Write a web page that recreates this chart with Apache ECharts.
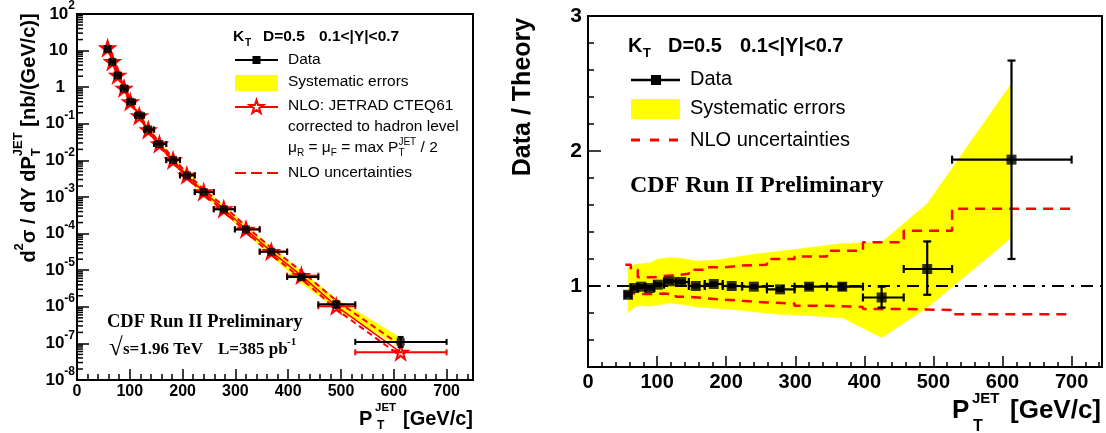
<!DOCTYPE html>
<html>
<head>
<meta charset="utf-8">
<script src="https://cdn.jsdelivr.net/npm/echarts@6.0.0/dist/echarts.min.js"></script>
<style>html,body{margin:0;padding:0;background:#fff;}#chart{width:1106px;height:433px;}</style>
</head>
<body>
<div id="chart"></div>
<script>
// ---------------- values ----------------
const ptBinCenters = [58, 67, 77, 89, 101, 118, 135, 156, 182, 208, 240, 278, 320, 368, 425, 491, 613];
const ptBinEdges   = [54, 62, 72, 83, 96, 110, 127, 146, 169, 195, 223, 259, 299, 346, 398, 457, 527, 700];

// left panel : d2sigma / dY dPT  [nb/(GeV/c)]
const dataXsec        = [11, 4.9, 2.1, 0.92, 0.40, 0.17, 0.070, 0.028, 0.0103, 0.0039, 0.00136, 4.6e-4, 1.3e-4, 3.2e-5, 6.5e-6, 1.17e-6, 1.1e-7];
const dataXsecErrUp   = [0, 0, 0, 0, 0, 0, 0, 0, 0, 0, 0, 0, 0, 0, 0.5e-6, 0.23e-6, 4.0e-8];
const dataXsecErrDown = [0, 0, 0, 0, 0, 0, 0, 0, 0, 0, 0, 0, 0, 0, 0.5e-6, 0.22e-6, 3.0e-8];
const nloXsec         = [11.8, 4.97, 2.11, 0.934, 0.396, 0.164, 0.068, 0.028, 0.0101, 0.0039, 0.00137, 4.72e-4, 1.31e-4, 3.22e-5, 7.1e-6, 1.04e-6, 5.7e-8];
const sysBandXsecHigh = [13.3, 5.77, 2.46, 1.09, 0.475, 0.198, 0.082, 0.0332, 0.0121, 0.00472, 0.00169, 5.93e-4, 1.68e-4, 4.23e-5, 9.4e-6, 1.67e-6, 1.42e-7];
const sysBandXsecLow  = [9.4, 4.2, 1.80, 0.794, 0.341, 0.1435, 0.0588, 0.0237, 0.00848, 0.00323, 0.00111, 3.73e-4, 1.02e-4, 2.46e-5, 4.39e-6, 8.74e-7, 7.72e-8];
const nloUncXsecHigh  = [13.6, 5.57, 2.25, 0.995, 0.426, 0.177, 0.0741, 0.0314, 0.0116, 0.00449, 0.00159, 5.66e-4, 1.59e-4, 4.06e-5, 9.4e-6, 1.47e-6, 8.9e-8];
const nloUncXsecLow   = [11.2, 4.67, 1.98, 0.878, 0.374, 0.153, 0.0626, 0.0255, 0.00914, 0.00347, 0.0012, 4.11e-4, 1.12e-4, 2.72e-5, 5.89e-6, 8.55e-7, 4.5e-8];

// right panel : Data / Theory
const ratioData     = [0.935, 0.985, 0.995, 0.985, 1.01, 1.035, 1.03, 1.0, 1.015, 1.0, 0.995, 0.975, 0.995, 0.995, 0.915, 1.126, 1.936];
const ratioErrUp    = [0.01, 0.01, 0.01, 0.01, 0.01, 0.01, 0.01, 0.01, 0.01, 0.01, 0.01, 0.012, 0.015, 0.02, 0.08, 0.204, 0.734];
const ratioErrDown  = [0.01, 0.01, 0.01, 0.01, 0.01, 0.01, 0.01, 0.01, 0.01, 0.01, 0.01, 0.012, 0.015, 0.02, 0.075, 0.191, 0.736];
const ratioSysHigh  = [1.13, 1.16, 1.165, 1.17, 1.20, 1.21, 1.205, 1.185, 1.19, 1.21, 1.235, 1.257, 1.285, 1.315, 1.324, 1.61, 2.50];
const ratioSysLow   = [0.80, 0.845, 0.855, 0.85, 0.86, 0.875, 0.865, 0.846, 0.835, 0.828, 0.81, 0.79, 0.78, 0.765, 0.618, 0.84, 1.36];
const ratioNloHigh  = [1.158, 1.12, 1.065, 1.065, 1.075, 1.08, 1.09, 1.12, 1.138, 1.151, 1.158, 1.20, 1.218, 1.262, 1.324, 1.41, 1.572];
const ratioNloLow   = [0.95, 0.94, 0.94, 0.94, 0.945, 0.935, 0.92, 0.91, 0.90, 0.89, 0.878, 0.87, 0.854, 0.845, 0.83, 0.822, 0.79];

// tick labels
const xTickValues     = [0, 100, 200, 300, 400, 500, 600, 700];
const logTickValues   = [1e-8, 1e-7, 1e-6, 1e-5, 1e-4, 1e-3, 1e-2, 1e-1, 1, 10, 100];
const ratioTickValues = [1, 2, 3];

// ---------------- drawing ----------------
const SANS = '"Liberation Sans", Arial, Helvetica, sans-serif';
const SERIF = '"Liberation Serif", "Times New Roman", serif';
const RED = '#ff0000', YEL = '#ffff00';
const STAR_PTS = [[50,4],[60.8,37.2],[95.6,37.2],[67.4,57.7],[78.2,90.8],[50,70.3],[21.8,90.8],[32.6,57.7],[4.4,37.2],[39.2,37.2]];
const STAR = 'path://M' + STAR_PTS.map(p => p[0] + ',' + p[1]).join('L') + 'Z';

const chart = echarts.init(document.getElementById('chart'), null, {renderer: 'canvas', width: 1106, height: 433});

const axisLineStyle = {color: '#000', width: 2};
const tickLineStyle = {color: '#000', width: 1.5};

function bandRender(xs, hi, lo, color) {
  return function (params, api) {
    const pts = [];
    for (let i = 0; i < xs.length; i++) pts.push(api.coord([xs[i], hi[i]]));
    for (let i = xs.length - 1; i >= 0; i--) pts.push(api.coord([xs[i], lo[i]]));
    return {type: 'polygon', shape: {points: pts}, style: {fill: color, stroke: color, lineWidth: 0.5}};
  };
}

function errRender(color, lw, cap) {
  return function (params, api) {
    const x = api.value(0), y = api.value(1), xl = api.value(2), xh = api.value(3), yl = api.value(4), yh = api.value(5);
    const c = api.coord([x, y]);
    const a = api.coord([xl, y]), b = api.coord([xh, y]);
    const st = {stroke: color, lineWidth: lw, fill: null};
    const ch = [
      {type: 'line', shape: {x1: a[0], y1: c[1], x2: b[0], y2: c[1]}, style: st},
      {type: 'line', shape: {x1: a[0], y1: c[1] - cap, x2: a[0], y2: c[1] + cap}, style: st},
      {type: 'line', shape: {x1: b[0], y1: c[1] - cap, x2: b[0], y2: c[1] + cap}, style: st}
    ];
    const lo = api.coord([x, yl]), hi = api.coord([x, yh]);
    if (Math.abs(lo[1] - hi[1]) > 1) {
      ch.push({type: 'line', shape: {x1: c[0], y1: lo[1], x2: c[0], y2: hi[1]}, style: st});
      ch.push({type: 'line', shape: {x1: c[0] - cap, y1: lo[1], x2: c[0] + cap, y2: lo[1]}, style: st});
      ch.push({type: 'line', shape: {x1: c[0] - cap, y1: hi[1], x2: c[0] + cap, y2: hi[1]}, style: st});
    }
    return {type: 'group', children: ch};
  };
}

const logMinorTicks = [];
for (let e = -8; e < 2; e++) for (let m = 2; m <= 9; m++) logMinorTicks.push([0, m * Math.pow(10, e)]);

const mctx = document.createElement('canvas').getContext('2d');
function layoutRuns(runs) {
  let x = 0; const ch = [];
  runs.forEach(r => {
    const fam = r.fam || SANS, w = r.w || 'bold';
    mctx.font = w + ' ' + r.s + 'px ' + fam;
    const wd = mctx.measureText(r.t).width;
    ch.push({type: 'text', x: x + (r.dx || 0), y: r.dy || 0,
      style: {text: r.t, fontSize: r.s, fontWeight: w, fontFamily: fam, fill: '#000', align: 'left', verticalAlign: 'middle'}});
    if (!r.stack) x += wd;
  });
  return {children: ch, width: x};
}
function txt(x, y, text, size, o) {
  o = o || {};
  return {type: 'text', x: x, y: y, z: 100, silent: true, rotation: o.rot || 0,
    style: {text: text, fontSize: size, fontFamily: o.fam || SANS, fontWeight: o.w || 'normal', fill: '#000',
      align: o.align || 'left', verticalAlign: o.va || 'middle'}};
}
function starPolygon(cx, cy, size) {
  return STAR_PTS.map(p => [cx - size / 2 + p[0] * size / 100, cy - size / 2 + p[1] * size / 100]);
}

const yTitle = layoutRuns([
  {t: 'd', s: 20}, {t: '2', s: 13, dy: -10}, {t: 'σ / dY dP', s: 20},
  {t: 'T', s: 13, dy: 7, stack: true}, {t: 'JET', s: 13, dy: -11}, {t: ' [nb/(GeV/c)]', s: 20}
]);
const muLine = layoutRuns([
  {t: 'μ', s: 15.5, w: 'normal'}, {t: 'R', s: 10, w: 'normal', dy: 5}, {t: ' = μ', s: 15.5, w: 'normal'},
  {t: 'F', s: 10, w: 'normal', dy: 5}, {t: ' = max P', s: 15.5, w: 'normal'},
  {t: 'T', s: 10, w: 'normal', dy: 5, stack: true}, {t: 'JET', s: 10, w: 'normal', dy: -6}, {t: ' / 2', s: 15.5, w: 'normal'}
]);

const graphics = [
  {type: 'group', x: 29, y: 138 + yTitle.width / 2, rotation: Math.PI / 2, z: 100, children: yTitle.children},
  txt(359, 419, 'P', 20, {w: 'bold'}), txt(375, 408, 'JET', 11.5, {w: 'bold'}), txt(377, 426, 'T', 12, {w: 'bold'}),
  txt(403, 419, '[GeV/c]', 20, {w: 'bold'}),
  txt(233, 37, 'K', 15.5, {w: 'bold'}), txt(245, 43, 'T', 10, {w: 'bold'}),
  txt(263, 37, 'D=0.5', 15.5, {w: 'bold'}), txt(319, 37, '0.1<|Y|<0.7', 15.5, {w: 'bold'}),
  {type: 'line', z: 100, shape: {x1: 235, y1: 60, x2: 278, y2: 60}, style: {stroke: '#000', lineWidth: 2}},
  {type: 'rect', z: 101, shape: {x: 252.5, y: 56, width: 8, height: 8}, style: {fill: '#000'}},
  txt(288, 60, 'Data', 15.5),
  {type: 'rect', z: 100, shape: {x: 235, y: 75, width: 43, height: 16}, style: {fill: YEL}},
  txt(288, 82, 'Systematic errors', 15.5),
  {type: 'line', z: 100, shape: {x1: 235, y1: 107, x2: 278, y2: 107}, style: {stroke: RED, lineWidth: 2}},
  {type: 'polygon', z: 101, shape: {points: starPolygon(256.5, 107, 15)}, style: {fill: '#fff', stroke: RED, lineWidth: 2}},
  txt(288, 106, 'NLO: JETRAD CTEQ61', 15.5),
  txt(288, 127, 'corrected to hadron level', 15.5),
  {type: 'group', x: 288, y: 148, z: 100, children: muLine.children},
  {type: 'line', z: 100, shape: {x1: 235, y1: 173, x2: 278, y2: 173}, style: {stroke: RED, lineWidth: 2, lineDash: [11, 5]}},
  txt(288, 173, 'NLO uncertainties', 15.5),
  txt(107, 322, 'CDF Run II Preliminary', 18.5, {w: 'bold', fam: SERIF}),
  txt(109, 349, '√', 25, {w: 'bold', fam: SERIF}),
  txt(123, 350, 's=1.96 TeV', 17, {w: 'bold', fam: SERIF}),
  txt(218, 350, 'L=385 pb', 17, {w: 'bold', fam: SERIF}),
  txt(287, 342, '-1', 11, {w: 'bold', fam: SERIF}),
  txt(523, 97, 'Data / Theory', 25, {w: 'bold', align: 'center', rot: Math.PI / 2}),
  txt(952, 411, 'P', 26, {w: 'bold'}), txt(972, 399, 'JET', 15, {w: 'bold'}), txt(973, 427, 'T', 16, {w: 'bold'}),
  txt(1010, 411, '[GeV/c]', 26, {w: 'bold'}),
  txt(628, 46, 'K', 20, {w: 'bold'}), txt(643, 53, 'T', 13, {w: 'bold'}),
  txt(668, 46, 'D=0.5', 20, {w: 'bold'}), txt(740, 46, '0.1<|Y|<0.7', 20, {w: 'bold'}),
  {type: 'line', z: 100, shape: {x1: 631, y1: 80, x2: 680, y2: 80}, style: {stroke: '#000', lineWidth: 2.5}},
  {type: 'rect', z: 101, shape: {x: 651, y: 75, width: 10, height: 10}, style: {fill: '#000'}},
  txt(690, 79, 'Data', 20),
  {type: 'rect', z: 100, shape: {x: 631, y: 99, width: 49, height: 20}, style: {fill: YEL}},
  txt(690, 108, 'Systematic errors', 20),
  {type: 'line', z: 100, shape: {x1: 631, y1: 140, x2: 680, y2: 140}, style: {stroke: RED, lineWidth: 3, lineDash: [9, 10]}},
  txt(690, 140, 'NLO uncertainties', 20),
  txt(630, 186, 'CDF Run II Preliminary', 24, {w: 'bold', fam: SERIF})
];

const labelRich = {
  b:   {fontSize: 17, fontWeight: 'bold', fontFamily: SANS, color: '#000', lineHeight: 28, verticalAlign: 'middle'},
  s:   {fontSize: 12, fontWeight: 'bold', fontFamily: SANS, color: '#000', lineHeight: 12, verticalAlign: 'top'},
  one: {fontSize: 17, fontWeight: 'bold', fontFamily: SANS, color: '#000', lineHeight: 28, padding: [0, 10, 0, 0]},
  ten: {fontSize: 17, fontWeight: 'bold', fontFamily: SANS, color: '#000', lineHeight: 28, padding: [0, 7, 0, 0]}
};

const option = {
  animation: false,
  backgroundColor: '#fff',
  graphic: graphics,
  grid: [
    {left: 77, top: 13, width: 396, height: 367, show: true, borderColor: '#000', borderWidth: 2, backgroundColor: 'rgba(0,0,0,0)'},
    {left: 588, top: 16, width: 514, height: 351, show: true, borderColor: '#000', borderWidth: 2, backgroundColor: 'rgba(0,0,0,0)'}
  ],
  xAxis: [
    {gridIndex: 0, type: 'value', min: 0, max: 750, position: 'bottom',
      axisLine: {onZero: false, lineStyle: axisLineStyle},
      axisTick: {inside: true, length: 11, customValues: xTickValues, lineStyle: tickLineStyle},
      axisLabel: {customValues: xTickValues, color: '#000', fontFamily: SANS, fontWeight: 'bold', fontSize: 16, margin: 4},
      splitLine: {show: false}},
    {gridIndex: 0, type: 'value', min: 0, max: 750, interval: 20, position: 'bottom',
      axisLine: {show: false}, axisTick: {inside: true, length: 6, lineStyle: tickLineStyle},
      axisLabel: {show: false}, splitLine: {show: false}},
    {gridIndex: 1, type: 'value', min: 0, max: 744, position: 'bottom',
      axisLine: {onZero: false, lineStyle: axisLineStyle},
      axisTick: {inside: true, length: 11, customValues: xTickValues, lineStyle: tickLineStyle},
      axisLabel: {customValues: xTickValues, color: '#000', fontFamily: SANS, fontWeight: 'bold', fontSize: 20, margin: 5},
      splitLine: {show: false}},
    {gridIndex: 1, type: 'value', min: 0, max: 744, interval: 20, position: 'bottom',
      axisLine: {show: false}, axisTick: {inside: true, length: 5, lineStyle: tickLineStyle},
      axisLabel: {show: false}, splitLine: {show: false}}
  ],
  yAxis: [
    {gridIndex: 0, type: 'log', logBase: 10, min: 1e-8, max: 100, position: 'left',
      axisLine: {onZero: false, lineStyle: axisLineStyle},
      axisTick: {inside: true, length: 12, customValues: logTickValues, lineStyle: tickLineStyle},
      axisLabel: {customValues: logTickValues, margin: 2, color: '#000', fontFamily: SANS, fontWeight: 'bold', fontSize: 17,
        formatter: function (v) {
          const e = Math.round(Math.log10(v));
          if (e === 0) return '{one|1}';
          if (e === 1) return '{ten|10}';
          return '{b|10}{s|' + e + '}';
        }, rich: labelRich},
      splitLine: {show: false}, minorTick: {show: false}},
    {gridIndex: 1, type: 'value', min: 0.4, max: 3, interval: 0.2, position: 'left',
      axisLine: {onZero: false, lineStyle: axisLineStyle},
      axisTick: {inside: true, length: 6, lineStyle: tickLineStyle},
      axisLabel: {show: false}, splitLine: {show: false}},
    {gridIndex: 1, type: 'value', min: 0.4, max: 3, position: 'left',
      axisLine: {onZero: false, lineStyle: axisLineStyle},
      axisTick: {inside: true, length: 13, customValues: ratioTickValues, lineStyle: tickLineStyle},
      axisLabel: {customValues: ratioTickValues, margin: 6, color: '#000', fontFamily: SANS, fontWeight: 'bold', fontSize: 21},
      splitLine: {show: false}}
  ],
  series: [
    {type: 'custom', xAxisIndex: 0, yAxisIndex: 0, z: 1, silent: true,
      renderItem: bandRender(ptBinCenters, sysBandXsecHigh, sysBandXsecLow, YEL),
      data: [[ptBinCenters[0], dataXsec[0]]], encode: {x: 0, y: 1}},
    {type: 'line', xAxisIndex: 0, yAxisIndex: 0, z: 3, silent: true, symbol: 'none',
      lineStyle: {color: RED, width: 2, type: [6, 4]},
      data: ptBinCenters.map((p, i) => [p, nloUncXsecHigh[i]])},
    {type: 'line', xAxisIndex: 0, yAxisIndex: 0, z: 3, silent: true, symbol: 'none',
      lineStyle: {color: RED, width: 2, type: [6, 4]},
      data: ptBinCenters.map((p, i) => [p, nloUncXsecLow[i]])},
    {type: 'custom', xAxisIndex: 0, yAxisIndex: 0, z: 4, silent: true,
      renderItem: errRender(RED, 2, 3), encode: {x: 0, y: 1},
      data: ptBinCenters.map((p, i) => [p, nloXsec[i], ptBinEdges[i], ptBinEdges[i + 1], nloXsec[i], nloXsec[i]])},
    {type: 'line', xAxisIndex: 0, yAxisIndex: 0, z: 4, silent: true,
      symbol: STAR, symbolSize: 14,
      itemStyle: {color: 'rgba(255,255,255,0)', borderColor: RED, borderWidth: 2},
      lineStyle: {color: RED, width: 1.5},
      data: ptBinCenters.map((p, i) => [p, nloXsec[i]])},
    {type: 'custom', xAxisIndex: 0, yAxisIndex: 0, z: 5, silent: true,
      renderItem: errRender('#000', 2, 3), encode: {x: 0, y: 1},
      data: ptBinCenters.map((p, i) => [p, dataXsec[i], ptBinEdges[i], ptBinEdges[i + 1],
        dataXsec[i] - dataXsecErrDown[i], dataXsec[i] + dataXsecErrUp[i]])},
    {type: 'scatter', xAxisIndex: 0, yAxisIndex: 0, z: 6, silent: true,
      symbol: 'rect', symbolSize: 8, itemStyle: {color: '#000'},
      data: ptBinCenters.map((p, i) => [p, dataXsec[i]])},
    {type: 'custom', xAxisIndex: 0, yAxisIndex: 0, z: 7, silent: true, encode: {x: 0, y: 1},
      renderItem: function (params, api) {
        const p = api.coord([0, api.value(1)]);
        return {type: 'line', shape: {x1: p[0], y1: p[1], x2: p[0] + 6, y2: p[1]}, style: {stroke: '#000', lineWidth: 1.5}};
      }, data: logMinorTicks},
    {type: 'custom', xAxisIndex: 2, yAxisIndex: 2, z: 1, silent: true,
      renderItem: bandRender(ptBinCenters, ratioSysHigh, ratioSysLow, YEL),
      data: [[ptBinCenters[0], ratioData[0]]], encode: {x: 0, y: 1}},
    {type: 'line', xAxisIndex: 2, yAxisIndex: 2, z: 3, silent: true, symbol: 'none', step: 'end',
      lineStyle: {color: RED, width: 2.5, type: [10, 7]},
      data: ptBinEdges.map((e, i) => [e, ratioNloHigh[Math.min(i, ratioNloHigh.length - 1)]])},
    {type: 'line', xAxisIndex: 2, yAxisIndex: 2, z: 3, silent: true, symbol: 'none', step: 'end',
      lineStyle: {color: RED, width: 2.5, type: [10, 7]},
      data: ptBinEdges.map((e, i) => [e, ratioNloLow[Math.min(i, ratioNloLow.length - 1)]])},
    {type: 'custom', xAxisIndex: 2, yAxisIndex: 2, z: 5, silent: true,
      renderItem: errRender('#000', 2.2, 4), encode: {x: 0, y: 1},
      data: ptBinCenters.map((p, i) => [p, ratioData[i], ptBinEdges[i], ptBinEdges[i + 1],
        ratioData[i] - ratioErrDown[i], ratioData[i] + ratioErrUp[i]])},
    {type: 'scatter', xAxisIndex: 2, yAxisIndex: 2, z: 6, silent: true,
      symbol: 'rect', symbolSize: 10, itemStyle: {color: '#000'},
      data: ptBinCenters.map((p, i) => [p, ratioData[i]]),
      markLine: {silent: true, symbol: ['none', 'none'], label: {show: false}, animation: false,
        lineStyle: {color: '#000', width: 2, type: [12, 7, 3, 7]},
        data: [{yAxis: 1}]}}
  ]
};
chart.setOption(option);
</script>
</body>
</html>
